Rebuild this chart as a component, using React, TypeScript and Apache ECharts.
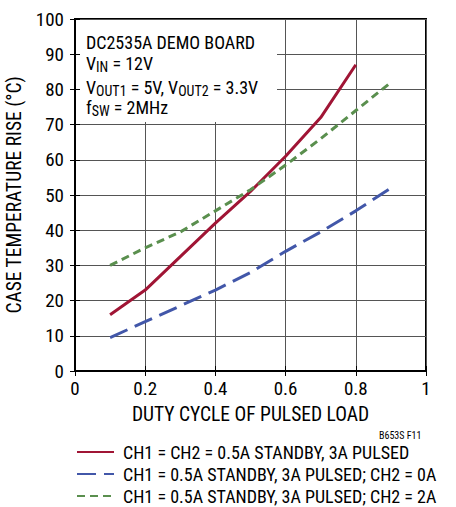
import React, { useEffect, useRef } from "react";
import * as echarts from "echarts";

const dutyCycle = [0.1, 0.2, 0.3, 0.4, 0.5, 0.6, 0.7, 0.8, 0.9];
const seriesNames = [
  "CH1 = CH2 = 0.5A STANDBY, 3A PULSED",
  "CH1 = 0.5A STANDBY, 3A PULSED; CH2 = 0A",
  "CH1 = 0.5A STANDBY, 3A PULSED; CH2 = 2A",
];
const redRise = [16, 23, 32.5, 42, 51, 61, 72, 87, null];
const blueRise = [9.5, 14, 18.5, 23, 28, 34, 39.5, 45.5, 52];
const greenRise = [30, 35, 39.5, 45.5, 51.5, 58.5, 66, 74, 82];

const FONT = "'Roboto Condensed', 'DejaVu Sans Condensed', sans-serif";

export default function App() {
  const ref = useRef<HTMLDivElement>(null);
  useEffect(() => {
    if (!ref.current) return;
    document.body.style.margin = "0";
    const chart = echarts.init(ref.current, null, { renderer: "svg" });
    const pair = (vals: (number | null)[]) => dutyCycle.map((x, i) => [x, vals[i]]).filter((d) => d[1] !== null);
    const tickCommon = { show: true, inside: true, length: 5, lineStyle: { color: "#000", width: 1 } };
    const xBase = { type: "value", min: 0, max: 1, interval: 0.2 };
    const yBase = { type: "value", min: 0, max: 100, interval: 10 };
    const rich = {
      a: { fontSize: 18, fontFamily: FONT, lineHeight: 20, verticalAlign: "top", color: "#000" },
      s: { fontSize: 14, fontFamily: FONT, lineHeight: 12, verticalAlign: "bottom", color: "#000" },
    };
    chart.setOption({
      animation: false,
      textStyle: { fontFamily: FONT },
      grid: {
        left: 75, right: 30, top: 19, bottom: 136, containLabel: false, outerBoundsMode: "none",
        show: true, borderColor: "#000", borderWidth: 2, z: 0,
      },
      xAxis: [
        {
          ...xBase,
          position: "bottom",
          z: 5,
          axisLine: { show: true, lineStyle: { color: "#000", width: 2 } },
          axisTick: tickCommon,
          axisLabel: { color: "#000", fontSize: 19, fontFamily: FONT, margin: 8 },
          splitLine: { show: false },
          name: "DUTY CYCLE OF PULSED LOAD",
          nameLocation: "middle",
          nameGap: 33,
          nameTextStyle: { color: "#000", fontSize: 19.5, fontFamily: FONT },
        },
        {
          ...xBase,
          position: "top",
          z: 5,
          axisLine: { show: true, lineStyle: { color: "#000", width: 2 } },
          axisTick: tickCommon,
          axisLabel: { show: false },
          splitLine: { show: false },
        },
        {
          ...xBase,
          position: "bottom",
          z: 0,
          axisLine: { show: false },
          axisTick: { show: false },
          axisLabel: { show: false },
          splitLine: { show: true, lineStyle: { color: "#555", width: 1 } },
        },
      ],
      yAxis: [
        {
          ...yBase,
          position: "left",
          z: 5,
          axisLine: { show: true, lineStyle: { color: "#000", width: 2 } },
          axisTick: tickCommon,
          axisLabel: { color: "#000", fontSize: 19, fontFamily: FONT, margin: 11 },
          splitLine: { show: false },
          name: "CASE TEMPERATURE RISE (°C)",
          nameLocation: "middle",
          nameRotate: 90,
          nameGap: 46,
          nameTextStyle: { color: "#000", fontSize: 19.5, fontFamily: FONT },
        },
        {
          ...yBase,
          position: "right",
          z: 5,
          axisLine: { show: true, lineStyle: { color: "#000", width: 2 } },
          axisTick: tickCommon,
          axisLabel: { show: false },
          splitLine: { show: false },
        },
        {
          ...yBase,
          position: "left",
          z: 0,
          axisLine: { show: false },
          axisTick: { show: false },
          axisLabel: { show: false },
          splitLine: { show: true, lineStyle: { color: "#555", width: 1 } },
        },
      ],
      legend: {
        orient: "vertical",
        left: 76,
        top: 443,
        padding: 0,
        itemWidth: 37,
        itemHeight: 14,
        itemGap: 4,
        itemStyle: { opacity: 0 },
        textStyle: { color: "#000", fontSize: 18, lineHeight: 18, fontFamily: FONT, padding: [0, 0, 0, 4] },
        data: seriesNames,
      },
      graphic: [
        { type: "rect", z: 1, shape: { x: 76, y: 20, width: 201, height: 102 }, style: { fill: "#fff" } },
        {
          type: "text", z: 2, x: 86, y: 33,
          style: { text: "{a|DC2535A DEMO BOARD}", rich },
        },
        {
          type: "text", z: 2, x: 86, y: 54,
          style: { text: "{a|V}{s|IN}{a| = 12V}", rich },
        },
        {
          type: "text", z: 2, x: 86, y: 78,
          style: { text: "{a|V}{s|OUT1}{a| = 5V, V}{s|OUT2}{a| = 3.3V}", rich },
        },
        {
          type: "text", z: 2, x: 86, y: 98,
          style: { text: "{a|f}{s|SW}{a| = 2MHz}", rich },
        },
        {
          type: "text", z: 2, x: 379, y: 430,
          style: { text: "B653S F11", fontSize: 10, fontFamily: FONT, fill: "#000" },
        },
      ],
      series: [
        {
          name: seriesNames[0], type: "line", symbol: "none", z: 3,
          data: pair(redRise),
          lineStyle: { color: "#A01535", width: 3 },
          itemStyle: { color: "#A01535" },
        },
        {
          name: seriesNames[1], type: "line", symbol: "none", z: 3,
          data: pair(blueRise),
          lineStyle: { color: "#4257A9", width: 3, type: [19, 8] },
          itemStyle: { color: "#4257A9" },
        },
        {
          name: seriesNames[2], type: "line", symbol: "none", z: 3,
          data: pair(greenRise),
          lineStyle: { color: "#5A8F4E", width: 3, type: [8, 5] },
          itemStyle: { color: "#5A8F4E" },
        },
      ],
    });
    return () => chart.dispose();
  }, []);
  return <div ref={ref} style={{ width: 456, height: 507 }} />;
}
